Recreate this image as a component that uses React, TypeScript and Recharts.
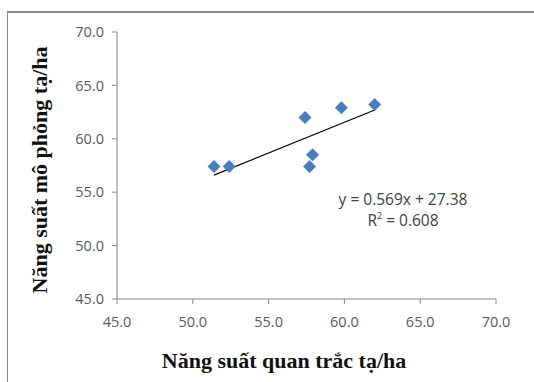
import React from 'react';
import { ScatterChart, Scatter, XAxis, YAxis, ReferenceLine } from 'recharts';

const observed = [51.4, 52.4, 57.4, 57.7, 57.9, 59.8, 62.0];
const simulated = [57.4, 57.4, 62.0, 57.4, 58.5, 62.9, 63.2];
const xTicks = [45, 50, 55, 60, 65, 70];
const yTicks = [45, 50, 55, 60, 65, 70];
const trendStart = { x: 51.4, y: 56.6 };
const trendEnd = { x: 62.0, y: 62.7 };

const points = observed.map((x, i) => ({ x, y: simulated[i] }));

const Diamond = (props: any) => {
    const { cx, cy } = props;
    const r = 6.5;
    return <path d={`M${cx},${cy - r}L${cx + r},${cy}L${cx},${cy + r}L${cx - r},${cy}Z`} fill="#4a7ebb" />;
};

const tickStyle = { fontSize: 14.5, fill: '#595959', fontFamily: 'Open Sans, sans-serif' };

const App: React.FC = () => {
    return (
        <div style={{ position: 'absolute', left: 0, top: 0, width: 534, height: 382, background: '#fff', overflow: 'hidden' }}>
            <div style={{ position: 'absolute', left: 7, top: 11, width: 526, height: 380, borderTop: '2px solid #8a8a8a', borderLeft: '1px solid #8a8a8a', borderRight: '1px solid #e4e4e4' }} />
            <ScatterChart width={534} height={382} margin={{ top: 32, right: 38, bottom: 0, left: 0 }} style={{ position: 'absolute', left: 0, top: 0 }}>
                <XAxis
                    type="number"
                    dataKey="x"
                    domain={[45, 70]}
                    ticks={xTicks}
                    tickFormatter={(v: number) => v.toFixed(1)}
                    height={83}
                    tick={tickStyle}
                    tickSize={5}
                    tickMargin={13}
                    stroke="#868686"
                    allowDataOverflow
                />
                <YAxis
                    type="number"
                    dataKey="y"
                    domain={[45, 70]}
                    ticks={yTicks}
                    tickFormatter={(v: number) => v.toFixed(1)}
                    width={117}
                    tick={tickStyle}
                    tickSize={5}
                    tickMargin={8}
                    stroke="#868686"
                    allowDataOverflow
                />
                <ReferenceLine segment={[trendStart, trendEnd]} stroke="#000" strokeWidth={1.2} ifOverflow="visible" />
                <Scatter data={points} shape={<Diamond />} isAnimationActive={false} />
            </ScatterChart>
            <div style={{ position: 'absolute', left: 40, top: 170, transform: 'translate(-50%, -50%) rotate(-90deg)', whiteSpace: 'nowrap', fontFamily: 'Liberation Serif, serif', fontWeight: 'bold', fontSize: 22, color: '#111' }}>
                Năng suất mô phỏng tạ/ha
            </div>
            <div style={{ position: 'absolute', left: 284, top: 361, transform: 'translate(-50%, -50%)', whiteSpace: 'nowrap', fontFamily: 'Liberation Serif, serif', fontWeight: 'bold', fontSize: 22, color: '#111' }}>
                Năng suất quan trắc tạ/ha
            </div>
            <div style={{ position: 'absolute', left: 403, top: 210, transform: 'translate(-50%, -50%)', textAlign: 'center', fontFamily: 'Open Sans, sans-serif', fontSize: 15.5, color: '#404040', lineHeight: '21px', whiteSpace: 'nowrap' }}>
                <div>y = 0.569x + 27.38</div>
                <div>R<sup style={{ fontSize: 9, verticalAlign: 'top', lineHeight: '12px' }}>2</sup> = 0.608</div>
            </div>
        </div>
    );
};

export default App;
